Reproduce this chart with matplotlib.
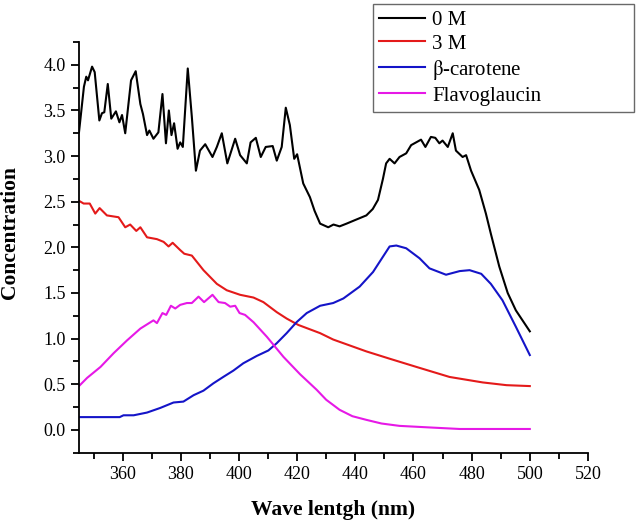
import numpy as np
import matplotlib
matplotlib.use("Agg")
import matplotlib.pyplot as plt
from matplotlib.ticker import MultipleLocator, FormatStrFormatter

plt.rcParams['font.family'] = ['Liberation Serif', 'DejaVu Serif']
plt.rcParams['mathtext.fontset'] = 'stix'

# values
x_0m = [345, 346.7, 347.5, 348.1, 349.5, 350.4, 352, 352.9, 353.7, 354.9, 356.1, 357.7, 358.9,
        359.8, 360.9, 362.9, 364.5, 366.1, 367, 368.4, 369.2, 370.6, 372.3, 373.7, 374.9, 375.9,
        376.8, 377.7, 378.9, 379.8, 380.7, 382.4, 383.8, 385.2, 386.6, 388.4, 390.9, 392.4, 394.1,
        396, 398.7, 400.4, 402.7, 404, 405.8, 407.5, 409.2, 411.6, 413, 414.7, 416.1, 417.5, 419,
        420, 422.1, 424.4, 426, 427.9, 430.7, 432.5, 434.6, 437, 440, 443.8, 446, 447.8, 449.5,
        450.6, 451.8, 453.5, 455.2, 457.5, 459.2, 460.9, 462.6, 464.1, 466, 467.5, 468.9, 470,
        471.8, 473.5, 474.6, 476.9, 478.1, 479.8, 482.6, 484.9, 486.6, 489.5, 492.4, 495.2, 500]
y_0m = [3.26, 3.76, 3.87, 3.83, 3.98, 3.92, 3.39, 3.47, 3.48, 3.79, 3.41, 3.49, 3.37,
        3.45, 3.25, 3.83, 3.93, 3.57, 3.46, 3.23, 3.28, 3.19, 3.26, 3.68, 3.14, 3.50,
        3.23, 3.36, 3.08, 3.15, 3.10, 3.96, 3.43, 2.84, 3.06, 3.13, 2.99, 3.10, 3.25,
        2.92, 3.19, 3.01, 2.92, 3.15, 3.20, 2.99, 3.10, 3.11, 2.95, 3.10, 3.53, 3.34, 2.97,
        3.02, 2.70, 2.55, 2.40, 2.26, 2.22, 2.25, 2.23, 2.26, 2.30, 2.35, 2.42, 2.52, 2.75,
        2.92, 2.97, 2.92, 2.99, 3.03, 3.12, 3.15, 3.18, 3.10, 3.21, 3.20, 3.14, 3.17,
        3.10, 3.25, 3.06, 2.99, 3.01, 2.84, 2.63, 2.37, 2.15, 1.79, 1.50, 1.31, 1.08]

x_3m = [345, 346.6, 348.7, 350.6, 352.1, 354.6, 358.6, 360.9, 362.6, 364.7, 366.1, 368.4,
        371.8, 374.1, 375.8, 377.2, 379.8, 381.2, 383.8, 387.8, 392.4, 395.8, 400.4, 405,
        408.4, 413, 416.4, 420.4, 427.9, 432.4, 443.8, 451.8, 461, 472.4, 483.8, 492, 500]
y_3m = [2.51, 2.48, 2.48, 2.37, 2.43, 2.35, 2.33, 2.22, 2.25, 2.18, 2.22, 2.11,
        2.09, 2.06, 2.01, 2.05, 1.97, 1.93, 1.91, 1.75, 1.60, 1.53, 1.48, 1.45,
        1.40, 1.29, 1.22, 1.15, 1.06, 0.99, 0.86, 0.78, 0.69, 0.58, 0.52, 0.49, 0.48]

x_bc = [345, 359, 360.3, 363.8, 368.4, 372.9, 377.5, 380.9, 384.4, 387.8, 391.2, 394.6,
        398.1, 401.5, 406.1, 410.1, 413, 416.4, 419.8, 423.3, 427.9, 432.4, 435.9, 441.5,
        446.1, 451.8, 454.1, 457.5, 462.1, 465.5, 471.2, 475.9, 479.3, 483.3, 486.6, 490.6,
        495.2, 500]
y_bc = [0.14, 0.14, 0.16, 0.16, 0.19, 0.24, 0.30, 0.31, 0.38, 0.43, 0.51, 0.58,
        0.65, 0.73, 0.81, 0.87, 0.95, 1.06, 1.18, 1.28, 1.36, 1.39, 1.44, 1.57,
        1.73, 2.01, 2.02, 1.99, 1.88, 1.77, 1.70, 1.74, 1.75, 1.71, 1.60, 1.42,
        1.13, 0.82]

x_fl = [345, 347.8, 352.4, 356.9, 361.5, 366.1, 370.6, 371.8, 373.7, 375, 376.6, 378.1,
        379.8, 382.1, 383.8, 386.1, 388, 390.9, 393, 395.2, 397, 398.7, 400.2, 402.1, 405,
        409.6, 415.3, 421, 426.7, 430, 434.6, 439, 443.8, 449, 455.2, 466.6, 475.9, 500]
y_fl = [0.48, 0.57, 0.69, 0.84, 0.98, 1.11, 1.20, 1.17, 1.28, 1.26, 1.36, 1.33,
        1.37, 1.39, 1.39, 1.46, 1.40, 1.48, 1.40, 1.39, 1.35, 1.36, 1.28, 1.26, 1.18,
        1.02, 0.80, 0.61, 0.44, 0.33, 0.22, 0.15, 0.11, 0.07, 0.044, 0.025, 0.01, 0.01]

labels = ['0 M', '3 M', r'$\mathrm{\beta}$-carotene', 'Flavoglaucin']
colors = ['black', '#e41a1a', '#1414c8', '#e619e6']

fig = plt.figure(figsize=(6.38, 5.23), dpi=100)
ax = fig.add_axes([0.1238, 0.1344, 0.7978, 0.7853])

for xs, ys, lab, col in zip([x_0m, x_3m, x_bc, x_fl], [y_0m, y_3m, y_bc, y_fl], labels, colors):
    ax.plot(xs, ys, color=col, lw=1.5, label=lab, solid_joinstyle='round')

ax.set_xlim(345, 520)
ax.set_ylim(-0.25, 4.25)
ax.set_xticks(np.arange(360, 521, 20))
ax.xaxis.set_minor_locator(MultipleLocator(10))
ax.set_yticks(np.arange(0, 4.01, 0.5))
ax.yaxis.set_minor_locator(MultipleLocator(0.25))
ax.yaxis.set_major_formatter(FormatStrFormatter('%.1f'))
ax.spines['top'].set_visible(False)
ax.spines['right'].set_visible(False)
for s in ['left', 'bottom']:
    ax.spines[s].set_linewidth(1.3)
ax.tick_params(which='major', direction='out', length=6, width=1.3, labelsize=13)
ax.tick_params(which='minor', direction='out', length=4, width=1.3)

ax.set_xlabel('Wave lentgh (nm)', fontsize=15.5, fontweight='bold', labelpad=12)
ax.set_ylabel('Concentration', fontsize=15.5, fontweight='bold')
ax.yaxis.set_label_coords(-0.116, 0.537)

leg = fig.legend(loc='upper left',
                 bbox_to_anchor=(373 / 638, 1 - 110 / 523, 261 / 638, 106 / 523),
                 mode='expand', fontsize=15, frameon=True, fancybox=False,
                 edgecolor='#444444', handlelength=2.2, handletextpad=0.35,
                 labelspacing=0.2, borderpad=0.3, borderaxespad=0)
leg.get_frame().set_linewidth(1.0)

fig.savefig('out.png', dpi=100)
